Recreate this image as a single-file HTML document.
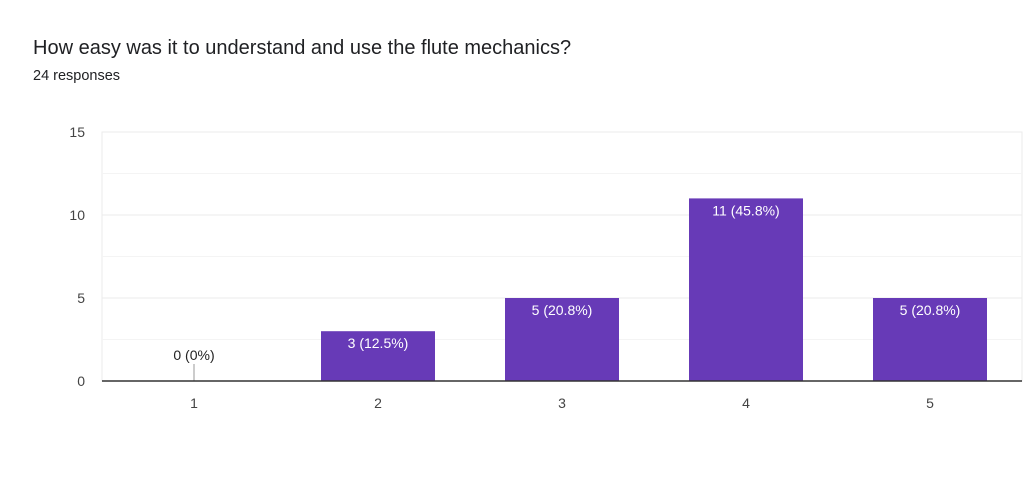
<!DOCTYPE html>
<html><head><meta charset="utf-8"><style>
body{margin:0;background:#fff;font-family:"Liberation Sans",Roboto,sans-serif;}
#wrap{position:relative;width:1024px;height:486px;overflow:hidden}
.title{position:absolute;left:33px;top:37px;font-size:20px;color:#202124}
.sub{position:absolute;left:33px;top:68px;font-size:14.5px;color:#202124}
</style></head><body>
<div id="wrap">
<div class="title">How easy was it to understand and use the flute mechanics?</div>
<div class="sub">24 responses</div>
<svg id="svg" width="1024" height="486" style="position:absolute;left:0;top:0"></svg>
</div>
<script>
const categories=["1","2","3","4","5"];
const counts=[0,3,5,11,5];
const valueLabels=["0 (0%)","3 (12.5%)","5 (20.8%)","11 (45.8%)","5 (20.8%)"];
const yTicks=[0,5,10,15];
const yMinor=[2.5,7.5,12.5];
const NS="http://www.w3.org/2000/svg";
const svg=document.getElementById('svg');
const L=102,R=1022,T=132,B=381,maxV=15;
const y=v=>B-(v/maxV)*(B-T);
const step=(R-L)/categories.length;
const x=i=>L+step*(i+0.5);
const bw=114;
function mk(tag,attrs,parent){const e=document.createElementNS(NS,tag);for(const k in attrs)e.setAttribute(k,attrs[k]);(parent||svg).appendChild(e);return e;}
const bg=mk('rect',{x:L,y:T,width:R-L,height:B-T,fill:'none',stroke:'#ebebeb'});


yMinor.forEach(v=>{const l=mk('line',{x1:L,x2:R,y1:y(v),y2:y(v),stroke:'#f4f4f4'});

});
yTicks.forEach(v=>{const l=mk('line',{x1:L,x2:R,y1:y(v),y2:y(v),stroke:'#ebebeb'});


const t=mk('text',{x:L-17,y:y(v)+5,'text-anchor':'end','font-size':14,fill:'#444'});t.textContent=v;

});
categories.forEach((c,i)=>{
 const cx=x(i),v=counts[i];
 if(v>0){const r=mk('rect',{x:cx-bw/2,y:y(v),width:bw,height:B-y(v),fill:'#673ab7'});
  
  
  const t=mk('text',{x:cx,y:y(v)+17,'text-anchor':'middle','font-size':14,fill:'#fff'});t.textContent=valueLabels[i];
  
  }
 else{const l=mk('line',{x1:cx,x2:cx,y1:B-17,y2:B,stroke:'#999'});
  
  
  const t=mk('text',{x:cx,y:B-21,'text-anchor':'middle','font-size':14,fill:'#222'});t.textContent=valueLabels[i];
  
  }
 const t=mk('text',{x:cx,y:B+27,'text-anchor':'middle','font-size':14,fill:'#444'});t.textContent=c;
 
 
});
const ax=mk('line',{x1:L,x2:R,y1:B,y2:B,stroke:'#333','stroke-width':1.5});


</script>
</body></html>
